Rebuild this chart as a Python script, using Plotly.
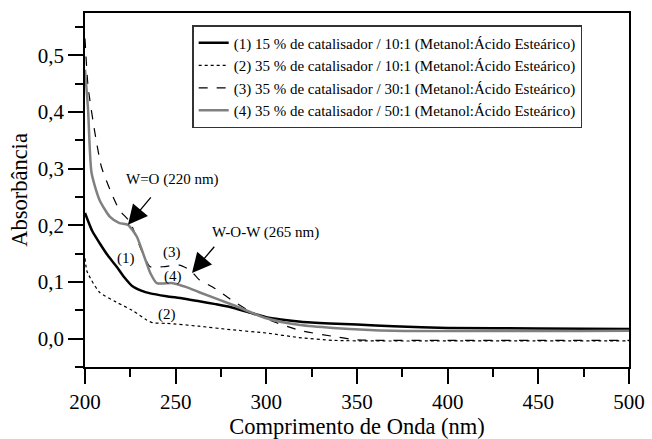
import plotly.graph_objects as go

# Data
x1 = [200, 204, 208, 213, 217.5, 222, 226, 231, 236, 245, 254, 263, 272, 280, 291, 300, 308, 319, 335, 350, 370, 400, 450, 500]
y1 = [0.222, 0.19, 0.169, 0.145, 0.127, 0.107, 0.093, 0.085, 0.08, 0.075, 0.071, 0.066, 0.061, 0.056, 0.046, 0.038, 0.034, 0.030, 0.027, 0.025, 0.022, 0.019, 0.018, 0.017]

x2 = [200, 201, 203.6, 208, 217, 226, 234, 237.5, 245, 263, 280, 300, 318, 337, 360, 400, 500]
y2 = [0.142, 0.12, 0.103, 0.082, 0.065, 0.05, 0.033, 0.028, 0.027, 0.022, 0.016, 0.01, 0.002, -0.003, -0.004, -0.004, -0.004]

x3 = [200, 201.7, 205.5, 209, 213.8, 219, 224.8, 231, 236, 243, 252, 258, 263, 270.6, 280, 290, 300, 318, 337, 350, 400, 500]
y3 = [0.53, 0.445, 0.363, 0.304, 0.263, 0.227, 0.206, 0.157, 0.127, 0.127, 0.13, 0.121, 0.104, 0.091, 0.07, 0.05, 0.035, 0.015, 0.004, -0.002, -0.003, -0.003]

x4 = [200, 201.7, 203.6, 208, 213.8, 219, 223.7, 228.6, 232, 236, 239.6, 248.5, 256, 263, 282, 300, 318.6, 337, 370, 500]
y4 = [0.475, 0.404, 0.293, 0.245, 0.215, 0.204, 0.201, 0.18, 0.151, 0.116, 0.098, 0.098, 0.091, 0.082, 0.059, 0.036, 0.024, 0.019, 0.014, 0.014]

names = [
    "(1) 15 % de catalisador / 10:1 (Metanol:Ácido Esteárico)",
    "(2) 35 % de catalisador / 10:1 (Metanol:Ácido Esteárico)",
    "(3) 35 % de catalisador / 30:1 (Metanol:Ácido Esteárico)",
    "(4) 35 % de catalisador / 50:1 (Metanol:Ácido Esteárico)",
]

curve_labels = ["(1)", "(2)", "(3)", "(4)"]
curve_label_x = [222.6, 245, 248, 248.5]
curve_label_y = [0.142, 0.043, 0.153, 0.109]

FONT = "Liberation Serif"

fig = go.Figure()
fig.add_trace(go.Scatter(x=x1, y=y1, mode="lines", name=names[0],
                         line=dict(color="black", width=2.5, shape="spline", smoothing=0.6)))
fig.add_trace(go.Scatter(x=x2, y=y2, mode="lines", name=names[1],
                         line=dict(color="black", width=1.2, dash="dot", shape="spline", smoothing=0.6)))
fig.add_trace(go.Scatter(x=x3, y=y3, mode="lines", name=names[2],
                         line=dict(color="black", width=1.2, dash="dash", shape="spline", smoothing=0.6)))
fig.add_trace(go.Scatter(x=x4, y=y4, mode="lines", name=names[3],
                         line=dict(color="#808080", width=2.5, shape="spline", smoothing=0.6)))

annotations = []
for t, ax_, ay_ in zip(curve_labels, curve_label_x, curve_label_y):
    annotations.append(dict(x=ax_, y=ay_, text=t, showarrow=False,
                            font=dict(family=FONT, size=15, color="black")))

annotations.append(dict(x=248, y=0.281, text="W=O (220 nm)", showarrow=False,
                        font=dict(family=FONT, size=15, color="black")))
annotations.append(dict(x=299.8, y=0.188, text="W-O-W (265 nm)", showarrow=False,
                        font=dict(family=FONT, size=15, color="black")))
# arrows
for (tx, ty, sx, sy) in [(223.7, 0.201, 237, 0.252), (259, 0.116, 272, 0.165)]:
    annotations.append(dict(x=tx, y=ty, ax=sx, ay=sy, xref="x", yref="y",
                            axref="x", ayref="y", text="", showarrow=True,
                            arrowhead=2, arrowsize=3, arrowwidth=1.3,
                            arrowcolor="black", standoff=0, startstandoff=0))

fig.update_layout(
    width=652, height=439,
    margin=dict(l=85, r=23, t=13, b=72),
    paper_bgcolor="white", plot_bgcolor="white",
    separators=",.",
    font=dict(family=FONT, color="black"),
    showlegend=True,
    legend=dict(x=0.197, y=0.966, xanchor="left", yanchor="top",
                bgcolor="white", bordercolor="#333", borderwidth=1.5,
                font=dict(family=FONT, size=15, color="black"),
                tracegroupgap=0, itemwidth=30),
    annotations=annotations,
)

fig.update_xaxes(
    range=[200, 500], dtick=50, tick0=200, automargin=False,
    showline=True, linecolor="black", linewidth=1.5, mirror=True,
    ticks="outside", ticklen=15, tickwidth=1.5, tickcolor="black",
    minor=dict(dtick=25, ticks="outside", ticklen=8, tickwidth=1.5, tickcolor="black"),
    showgrid=False, zeroline=False,
    tickfont=dict(family=FONT, size=21, color="black"),
    title=dict(text="Comprimento de Onda (nm)", font=dict(family=FONT, size=22.5, color="black"), standoff=6),
)
fig.update_yaxes(
    range=[-0.05, 0.575], dtick=0.1, tick0=0, tickformat=".1f", automargin=False,
    showline=True, linecolor="black", linewidth=1.5, mirror=True,
    ticks="outside", ticklen=15, tickwidth=1.5, tickcolor="black",
    minor=dict(dtick=0.05, tick0=0, ticks="outside", ticklen=8, tickwidth=1.5, tickcolor="black"),
    showgrid=False, zeroline=False,
    tickfont=dict(family=FONT, size=21, color="black"),
    title=dict(text="Absorbância", font=dict(family=FONT, size=22.5, color="black"), standoff=4),
)

fig.write_html("out.html")
